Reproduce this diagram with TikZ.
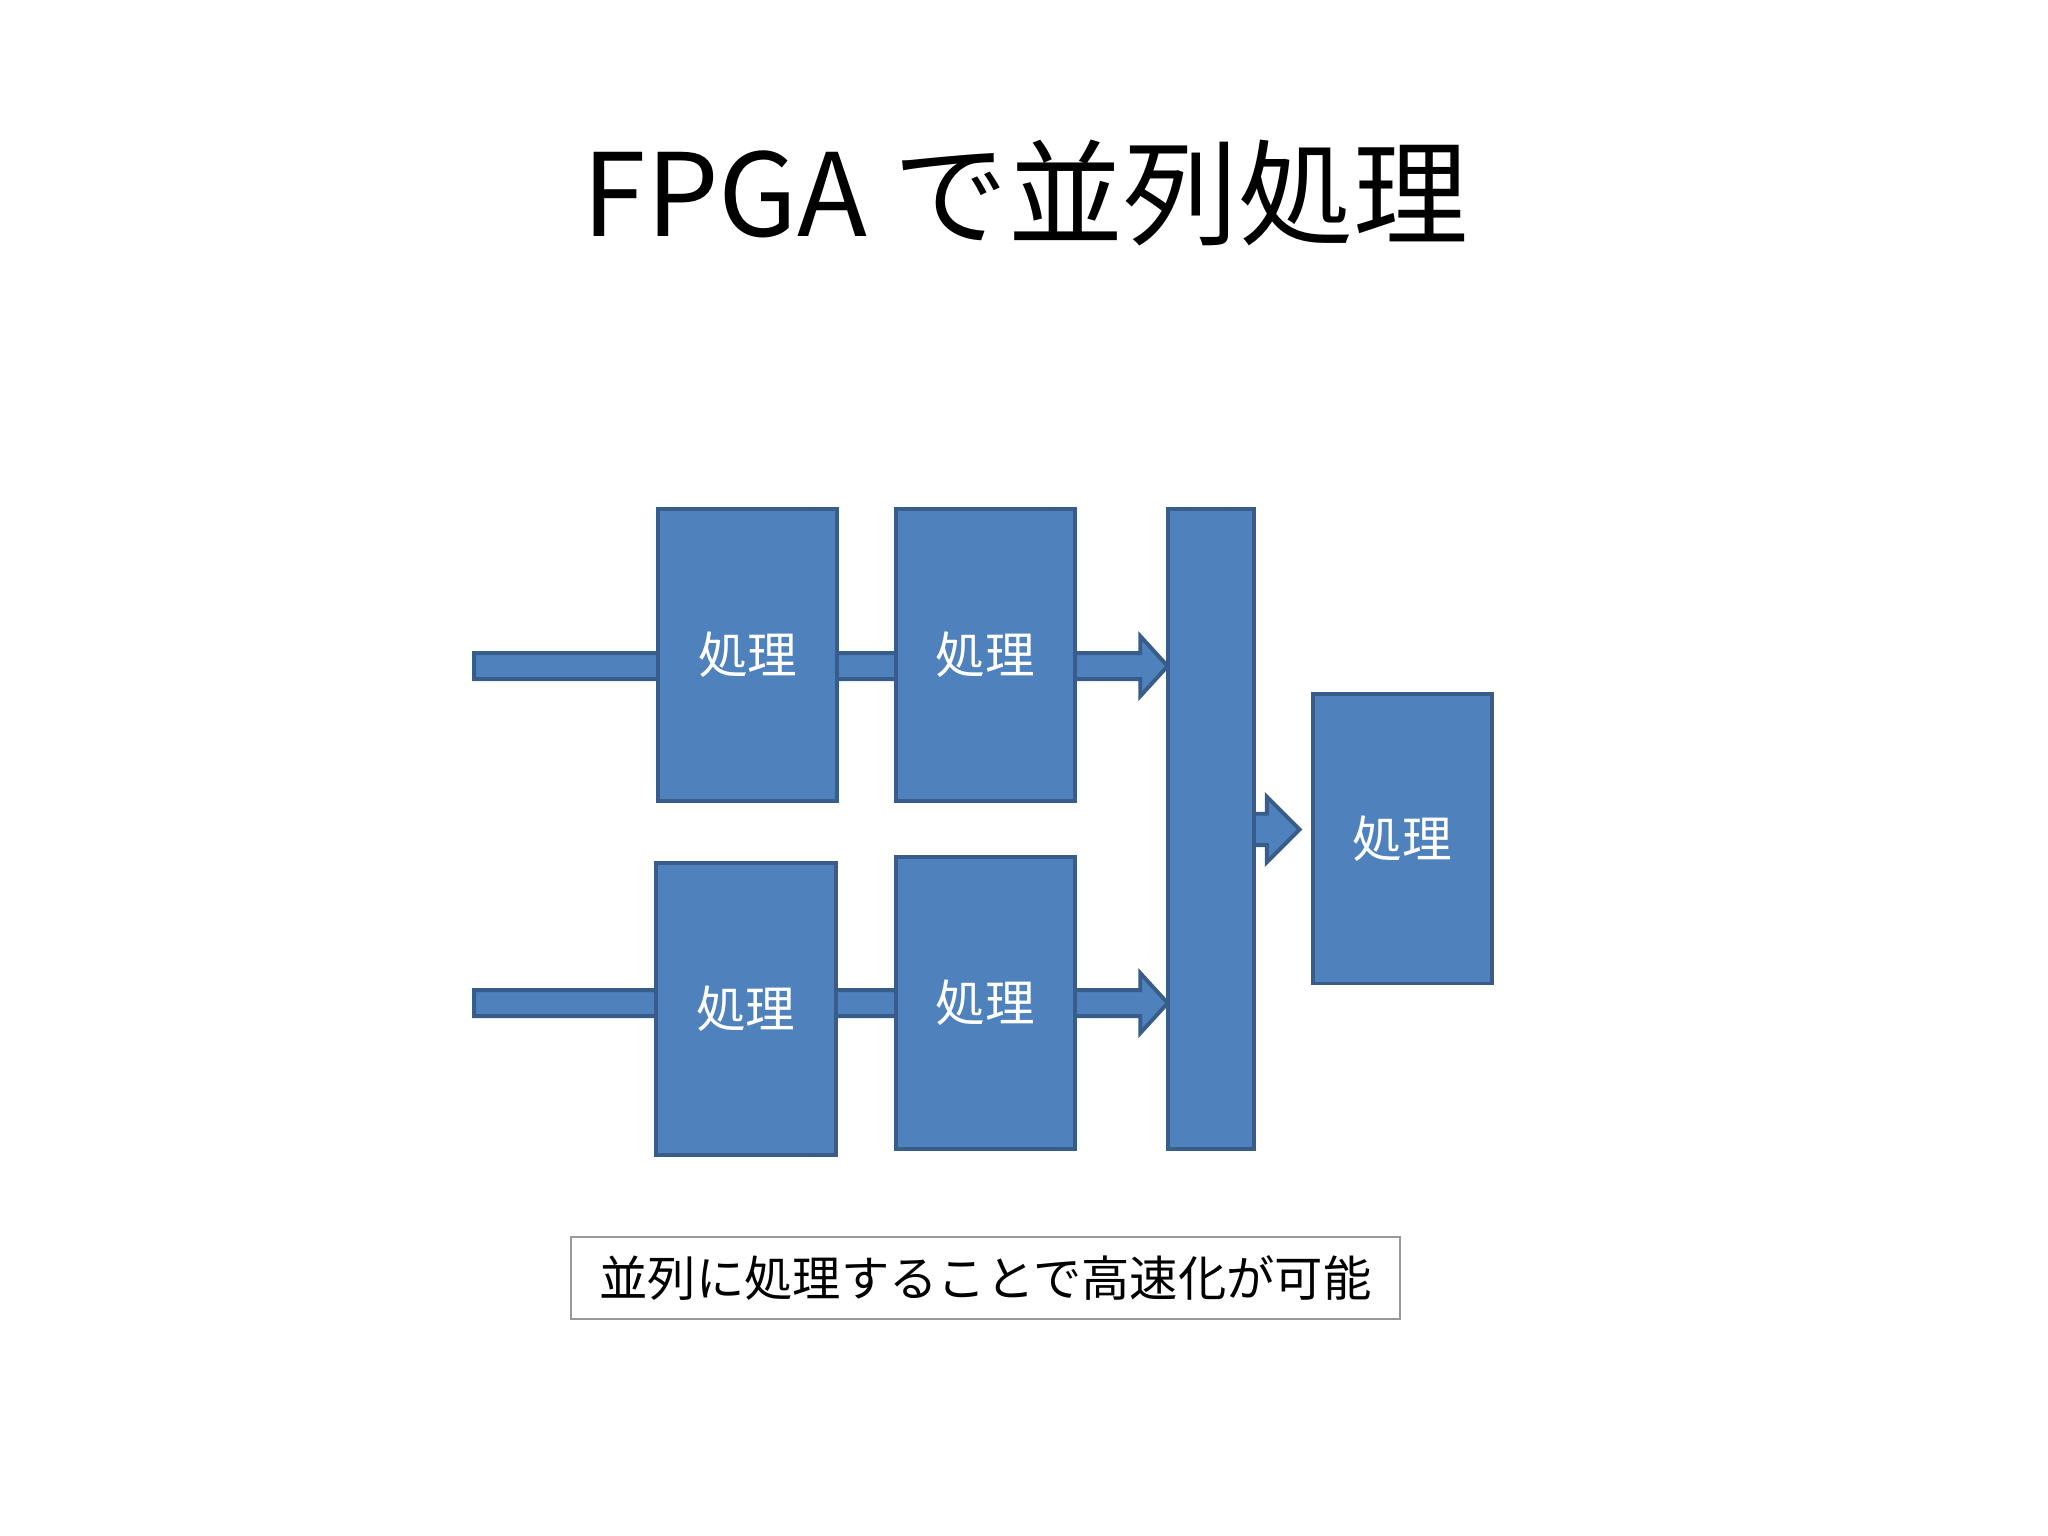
\documentclass[tikz,border=0pt]{standalone}
\usepackage{fontspec}
\setmainfont{Noto Sans CJK JP}
\definecolor{bfill}{HTML}{4F81BD}
\definecolor{bline}{HTML}{385D8A}
\begin{document}
\begin{tikzpicture}[x=0.5pt,y=-0.5pt,
  blk/.style={fill=bfill,draw=bline,line width=1.5pt},
  lbl/.style={text=white,font=\fontsize{19}{22}\selectfont}]
\useasboundingbox (0,0) rectangle (1568,1176);
\node[font=\fontsize{44}{50}\selectfont] (title) at (785,148) {FPGA で並列処理};
% arrows
\draw[blk,line join=miter] (363,500) -- (873,500) -- (873,487) -- (894,510) -- (873,533) -- (873,520) -- (363,520) -- cycle;
\draw[blk,line join=miter] (363,758) -- (873,758) -- (873,745) -- (894,768) -- (873,791) -- (873,778) -- (363,778) -- cycle;
\draw[blk,line join=miter] (955,623) -- (970,623) -- (970,610) -- (995,635) -- (970,660) -- (970,647) -- (955,647) -- cycle;
% boxes
\draw[blk] (504,390) rectangle (641,613); \node[lbl] (a) at (572.5,501) {処理};
\draw[blk] (686,390) rectangle (823,613); \node[lbl] (b) at (754.5,501) {処理};
\draw[blk] (502,661) rectangle (640,884); \node[lbl] (c) at (571,772) {処理};
\draw[blk] (686,656) rectangle (823,880); \node[lbl] (d) at (754.5,768) {処理};
\draw[blk] (894,390) rectangle (960,880);
\draw[blk] (1005,531) rectangle (1142,753); \node[lbl] (e) at (1073.5,642) {処理};
\draw[draw=gray!80,line width=0.8pt] (437,947) rectangle (1072,1010);
\node[font=\fontsize{18.5}{22}\selectfont] (cap) at (754.5,978.5) {並列に処理することで高速化が可能};
\end{tikzpicture}
\end{document}
